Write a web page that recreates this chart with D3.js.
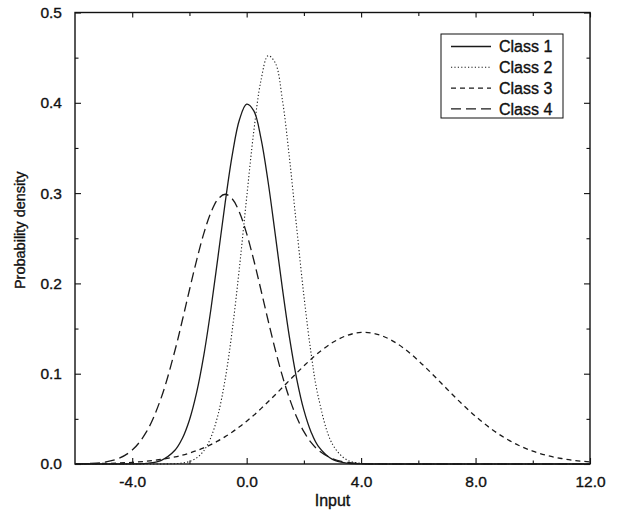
<!DOCTYPE html>
<html>
<head>
<meta charset="utf-8">
<script src="https://cdn.jsdelivr.net/npm/d3@7"></script>
<style>
  body { margin: 0; background: #fff; }
  svg text { font-family: "Liberation Sans", Arial, Helvetica, sans-serif; fill: #111; stroke: #111; stroke-width: 0.35px; }
</style>
</head>
<body>
<svg id="chart" width="618" height="514"></svg>
<script>
const inputGrid = [-6, -5.5, -5, -4.5, -4, -3.5, -3, -2.5,
                   -2.25, -2, -1.75, -1.5, -1.25, -1, -0.75, -0.5, -0.25, 0, 0.25, 0.5, 0.75, 1, 1.25, 1.5, 1.75, 2, 2.25,
                   2.5, 3, 3.5, 4, 4.5, 5, 5.5, 6, 6.5, 7, 7.5, 8, 8.5, 9, 9.5, 10, 10.5, 11, 11.5, 12];

const class1Density = [0, 0, 0, 0.00001, 0.0001, 0.0007, 0.0038, 0.0155,
                       0.0283, 0.0488, 0.0790, 0.120, 0.1714, 0.230, 0.2897, 0.343, 0.3815, 0.3985, 0.3911, 0.3607,
                       0.3123, 0.2541, 0.1942, 0.1394, 0.0941, 0.0596, 0.0355,
                       0.0198, 0.0051, 0.0010, 0.0002, 0, 0, 0, 0, 0, 0, 0, 0, 0, 0, 0, 0, 0, 0, 0, 0];
const class2Density = [0, 0, 0, 0, 0, 0, 0.00004, 0.0004,
                       0.0011, 0.0028, 0.0067, 0.0146, 0.0294, 0.0547, 0.0940, 0.1492, 0.2184, 0.2952, 0.3686, 0.4248,
                       0.4521, 0.4442, 0.4030, 0.3376, 0.2611, 0.1864, 0.1229,
                       0.0748, 0.0218, 0.0046, 0.0007, 0.0001, 0, 0, 0, 0, 0, 0, 0, 0, 0, 0, 0, 0, 0, 0, 0];
const class3Density = [0.00016, 0.00031, 0.00057, 0.00104, 0.0018, 0.0031, 0.0050, 0.0079,
                       0.0098, 0.0121, 0.0148, 0.0179, 0.0215, 0.0256, 0.0303, 0.0355, 0.0412, 0.0474, 0.0541, 0.0613,
                       0.0689, 0.0767, 0.0847, 0.0928, 0.1008, 0.1086, 0.1160,
                       0.1229, 0.1345, 0.1423, 0.1457, 0.1442, 0.1381, 0.1279, 0.1145, 0.0992, 0.0831, 0.0673, 0.0528,
                       0.0400, 0.0293, 0.0208, 0.0142, 0.0094, 0.0061, 0.0038, 0.0023];
const class4Density = [0.00013, 0.00053, 0.0019, 0.0058, 0.0154, 0.0358, 0.0722, 0.1265,
                       0.1589, 0.1927, 0.2256, 0.2551, 0.2785, 0.2935, 0.2987, 0.2935, 0.2785, 0.2551, 0.2256, 0.1927,
                       0.1589, 0.1265, 0.0973, 0.0722, 0.0517, 0.0358, 0.0239,
                       0.0154, 0.0058, 0.0019, 0.0005, 0.0001, 0, 0, 0, 0, 0, 0, 0, 0, 0, 0, 0, 0, 0, 0, 0];

const seriesNames = ["Class 1", "Class 2", "Class 3", "Class 4"];
const seriesValues = [class1Density, class2Density, class3Density, class4Density];

const xTicks = [-4, 0, 4, 8, 12];
const xMinorTicks = [-2, 2, 6, 10];
const yTicks = [0, 0.1, 0.2, 0.3, 0.4, 0.5];
const yMinorTicks = [0.05, 0.15, 0.25, 0.35, 0.45];

// line looks per class: solid, dotted, short dash, long dash
const dashes = [null, "1.2,2.2", "5,4", "10,5"];

const margin = { top: 12.5, right: 28, bottom: 50, left: 75 };
const width = 618, height = 514;

const svg = d3.select("#chart");

const x = d3.scaleLinear().domain([-6, 12]).range([margin.left, width - margin.right]);
const y = d3.scaleLinear().domain([0, 0.5]).range([height - margin.bottom, margin.top]);

const fontFamily = '"Liberation Sans", Arial, Helvetica, sans-serif';

function styleAxis(g) {
    g.select(".domain").remove();
    g.attr("font-family", fontFamily).attr("font-size", 15.5);
    g.selectAll(".tick line").attr("stroke", "#111").attr("stroke-width", 1.1);
    g.selectAll(".tick text").attr("fill", "#111");
}

// bottom axis, ticks pointing inward
svg.append("g")
    .attr("transform", `translate(0,${y(0)})`)
    .call(d3.axisBottom(x).tickValues(xTicks).tickSize(-6).tickPadding(12).tickFormat(d => d.toFixed(1)))
    .call(styleAxis);
svg.append("g")
    .attr("transform", `translate(0,${y(0)})`)
    .call(d3.axisBottom(x).tickValues(xMinorTicks).tickSize(-3.5).tickFormat(""))
    .call(styleAxis);

// top axis, ticks only
svg.append("g")
    .attr("transform", `translate(0,${y(0.5)})`)
    .call(d3.axisTop(x).tickValues(xTicks).tickSize(-5).tickFormat(""))
    .call(styleAxis);
svg.append("g")
    .attr("transform", `translate(0,${y(0.5)})`)
    .call(d3.axisTop(x).tickValues(xMinorTicks).tickSize(-3.5).tickFormat(""))
    .call(styleAxis);

// left axis
svg.append("g")
    .attr("transform", `translate(${x(-6)},0)`)
    .call(d3.axisLeft(y).tickValues(yTicks).tickSize(-6).tickPadding(13).tickFormat(d => d.toFixed(1)))
    .call(styleAxis);
svg.append("g")
    .attr("transform", `translate(${x(-6)},0)`)
    .call(d3.axisLeft(y).tickValues(yMinorTicks).tickSize(-3.5).tickFormat(""))
    .call(styleAxis);

// right axis
svg.append("g")
    .attr("transform", `translate(${x(12)},0)`)
    .call(d3.axisRight(y).tickValues(yTicks).tickSize(-6).tickFormat(""))
    .call(styleAxis);
svg.append("g")
    .attr("transform", `translate(${x(12)},0)`)
    .call(d3.axisRight(y).tickValues(yMinorTicks).tickSize(-3.5).tickFormat(""))
    .call(styleAxis);

// frame
svg.append("rect")
    .attr("x", x(-6))
    .attr("y", y(0.5))
    .attr("width", x(12) - x(-6))
    .attr("height", y(0) - y(0.5))
    .attr("fill", "none")
    .attr("stroke", "#111")
    .attr("stroke-width", 1.4);

// curves
const line = d3.line()
    .x((d, i) => x(inputGrid[i]))
    .y(d => y(d))
    .curve(d3.curveCatmullRom.alpha(0.5));

svg.append("g")
    .selectAll("path")
    .data(seriesValues)
    .enter().append("path")
    .attr("d", line)
    .attr("fill", "none")
    .attr("stroke", "#1a1a1a")
    .attr("stroke-width", (d, i) => i === 1 ? 1.1 : 1.3)
    .attr("stroke-dasharray", (d, i) => dashes[i]);

// axis titles
svg.append("text")
    .attr("x", (x(-6) + x(12)) / 2)
    .attr("y", 506)
    .attr("text-anchor", "middle")
    .style("font-size", "16px")
    .text("Input");

svg.append("text")
    .attr("transform", `translate(25,${(y(0) + y(0.5)) / 2 - 8}) rotate(-90)`)
    .attr("text-anchor", "middle")
    .style("font-size", "14.5px")
    .text("Probability density");

// legend
const legend = svg.append("g");
legend.append("rect")
    .attr("x", 441)
    .attr("y", 34)
    .attr("width", 122)
    .attr("height", 84)
    .attr("fill", "#fff")
    .attr("stroke", "#111")
    .attr("stroke-width", 1);

const rows = legend.selectAll("g.row")
    .data(seriesNames)
    .enter().append("g")
    .attr("class", "row")
    .attr("transform", (d, i) => `translate(0,${46.5 + i * 20.8})`);

rows.append("line")
    .attr("x1", 451)
    .attr("x2", 491)
    .attr("stroke", "#1a1a1a")
    .attr("stroke-width", (d, i) => i === 1 ? 1.1 : 1.3)
    .attr("stroke-dasharray", (d, i) => dashes[i]);

rows.append("text")
    .attr("x", 499)
    .attr("dy", "0.36em")
    .style("font-size", "16px")
    .text(d => d);
</script>
</body>
</html>
